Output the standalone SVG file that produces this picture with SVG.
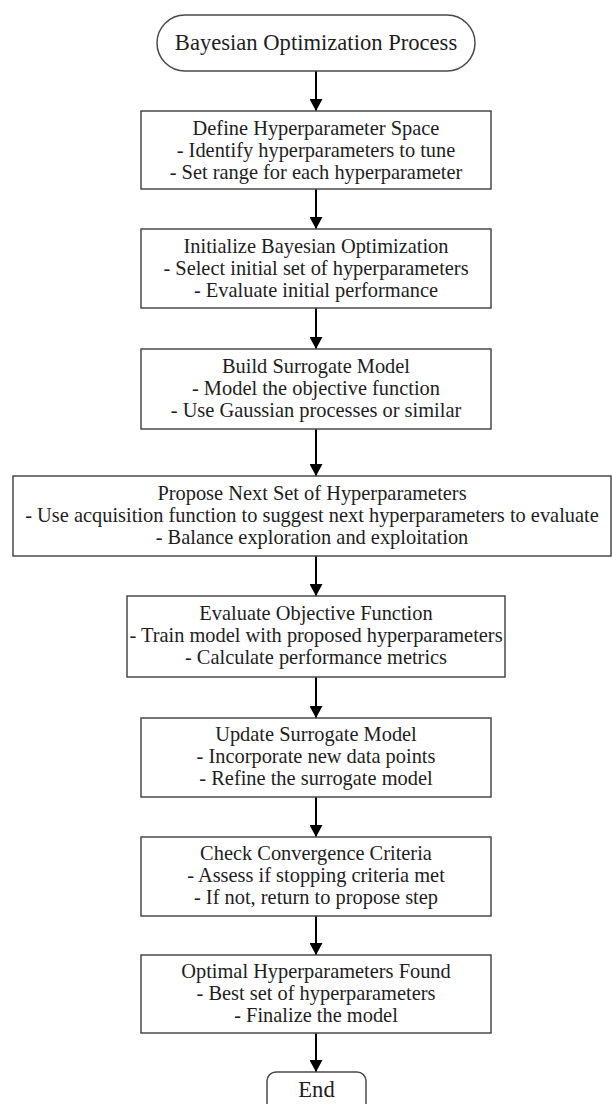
<svg xmlns="http://www.w3.org/2000/svg" width="612" height="1104" viewBox="0 0 612 1104">
<style>
.box{fill:#ffffff;stroke:#4a4a4a;stroke-width:1.5}
.t{font-family:"Liberation Serif","Times New Roman",serif;font-size:20.4px;fill:#1e1e1e;text-anchor:middle}
.h{font-size:22.6px}
.c{stroke:#000;stroke-width:2;fill:none;marker-end:url(#ah)}
</style>
<defs>
<marker id="ah" viewBox="0 0 12 13" refX="12" refY="6.5" markerWidth="12" markerHeight="13" markerUnits="userSpaceOnUse" orient="auto">
<path d="M0,0 L12,6.5 L0,13 Z" fill="#000"/>
</marker>
</defs>
<rect width="612" height="1104" fill="#ffffff"/>
<g id="connectors">
<line class="c" x1="316" y1="71" x2="316" y2="111"/>
<line class="c" x1="316" y1="189" x2="316" y2="229"/>
<line class="c" x1="316" y1="308" x2="316" y2="349"/>
<line class="c" x1="316" y1="429" x2="316" y2="476"/>
<line class="c" x1="316" y1="556" x2="316" y2="596"/>
<line class="c" x1="316" y1="677" x2="316" y2="718"/>
<line class="c" x1="316" y1="797" x2="316" y2="837"/>
<line class="c" x1="316" y1="916" x2="316" y2="955"/>
<line class="c" x1="316" y1="1033" x2="316" y2="1072"/>
</g>
<g id="start">
<rect class="box" x="157" y="15" width="318" height="56" rx="28" ry="28"/>
<text class="t h" x="316" y="50">Bayesian Optimization Process</text>
</g>
<g id="define">
<rect class="box" x="141" y="111" width="350" height="78"/>
<text class="t" x="316" y="135">Define Hyperparameter Space</text>
<text class="t" x="316" y="157">- Identify hyperparameters to tune</text>
<text class="t" x="316" y="179">- Set range for each hyperparameter</text>
</g>
<g id="init">
<rect class="box" x="141" y="229" width="350" height="79"/>
<text class="t" x="316" y="253">Initialize Bayesian Optimization</text>
<text class="t" x="316" y="275">- Select initial set of hyperparameters</text>
<text class="t" x="316" y="297">- Evaluate initial performance</text>
</g>
<g id="build">
<rect class="box" x="141" y="349" width="350" height="80"/>
<text class="t" x="316" y="373">Build Surrogate Model</text>
<text class="t" x="316" y="395">- Model the objective function</text>
<text class="t" x="316" y="417">- Use Gaussian processes or similar</text>
</g>
<g id="propose">
<rect class="box" x="13" y="476" width="598" height="80"/>
<text class="t" x="312" y="500">Propose Next Set of Hyperparameters</text>
<text class="t" x="312" y="522">- Use acquisition function to suggest next hyperparameters to evaluate</text>
<text class="t" x="312" y="544">- Balance exploration and exploitation</text>
</g>
<g id="evaluate">
<rect class="box" x="127" y="596" width="378" height="81"/>
<text class="t" x="316" y="620">Evaluate Objective Function</text>
<text class="t" x="316" y="642">- Train model with proposed hyperparameters</text>
<text class="t" x="316" y="664">- Calculate performance metrics</text>
</g>
<g id="update">
<rect class="box" x="141" y="718" width="350" height="79"/>
<text class="t" x="316" y="741">Update Surrogate Model</text>
<text class="t" x="316" y="763">- Incorporate new data points</text>
<text class="t" x="316" y="785">- Refine the surrogate model</text>
</g>
<g id="check">
<rect class="box" x="141" y="837" width="350" height="79"/>
<text class="t" x="316" y="860">Check Convergence Criteria</text>
<text class="t" x="316" y="882">- Assess if stopping criteria met</text>
<text class="t" x="316" y="904">- If not, return to propose step</text>
</g>
<g id="optimal">
<rect class="box" x="141" y="955" width="350" height="78"/>
<text class="t" x="316" y="978">Optimal Hyperparameters Found</text>
<text class="t" x="316" y="1000">- Best set of hyperparameters</text>
<text class="t" x="316" y="1022">- Finalize the model</text>
</g>
<g id="end">
<rect class="box" x="267" y="1072" width="99" height="48" rx="9" ry="9"/>
<text class="t h" x="316.5" y="1097">End</text>
</g>
</svg>
